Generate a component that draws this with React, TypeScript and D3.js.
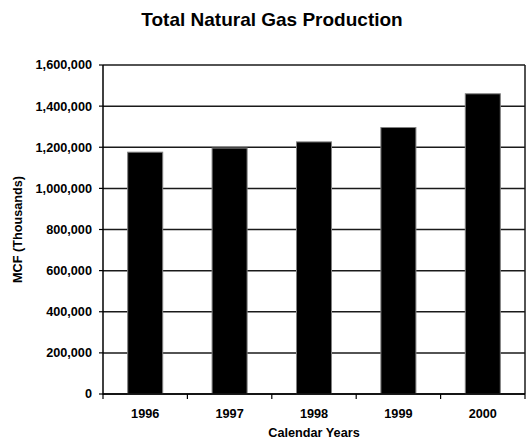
import React from "react";
import * as d3 from "d3";

const years = ["1996", "1997", "1998", "1999", "2000"];
const production = [1176000, 1196000, 1226000, 1296000, 1460000];
const yTicks = [0, 200000, 400000, 600000, 800000, 1000000, 1200000, 1400000, 1600000];

const W = 527;
const H = 442;
const left = 103;
const right = 525;
const top = 65;
const bottom = 394;
const FONT = "'Liberation Sans', Arial, Helvetica, sans-serif";

export default function App() {
  const x = d3
    .scaleBand<string>()
    .domain(years)
    .range([left, right])
    .paddingInner(0.585)
    .paddingOuter(0.2925);
  const y = d3.scaleLinear().domain([0, 1600000]).range([bottom, top]);
  const step = x.step();
  const fmt = d3.format(",");

  return (
    <div style={{ position: "fixed", left: 0, top: 0 }}>
      <svg width={W} height={H} style={{ display: "block", background: "#fff" }}>
        <text
          x={272}
          y={26}
          textAnchor="middle"
          fontFamily={FONT}
          fontWeight="bold"
          fontSize={19}
          fill="#000"
        >
          Total Natural Gas Production
        </text>

        {/* gridlines */}
        {yTicks.map((t) => (
          <line
            key={"g" + t}
            x1={left}
            x2={right}
            y1={y(t)}
            y2={y(t)}
            stroke="#1a1a1a"
            strokeWidth={1.5}
          />
        ))}

        {/* right border */}
        <line x1={right} x2={right} y1={top} y2={bottom} stroke="#1a1a1a" strokeWidth={1.5} />

        {/* bars */}
        {years.map((yr, i) => (
          <rect
            key={yr}
            x={x(yr)}
            y={y(production[i])}
            width={x.bandwidth()}
            height={bottom - y(production[i])}
            fill="#000"
            stroke="#808080"
            strokeWidth={1}
          />
        ))}

        {/* axes */}
        <line x1={left} x2={left} y1={top} y2={bottom + 0.5} stroke="#000" strokeWidth={1.5} />
        <line x1={left} x2={right} y1={bottom} y2={bottom} stroke="#000" strokeWidth={1.5} />

        {yTicks.map((t) => (
          <g key={"yt" + t}>
            <line x1={left - 4} x2={left} y1={y(t)} y2={y(t)} stroke="#000" strokeWidth={1.2} />
            <text
              x={92}
              y={y(t)}
              dy="0.35em"
              textAnchor="end"
              fontFamily={FONT}
              fontWeight="bold"
              fontSize={12.7}
              fill="#000"
            >
              {fmt(t)}
            </text>
          </g>
        ))}

        {d3.range(years.length + 1).map((i) => (
          <line
            key={"xt" + i}
            x1={left + i * step}
            x2={left + i * step}
            y1={bottom}
            y2={bottom + 5}
            stroke="#000"
            strokeWidth={1.2}
          />
        ))}

        {years.map((yr) => (
          <text
            key={"xl" + yr}
            x={(x(yr) as number) + x.bandwidth() / 2}
            y={417.5}
            textAnchor="middle"
            fontFamily={FONT}
            fontWeight="bold"
            fontSize={12.7}
            fill="#000"
          >
            {yr}
          </text>
        ))}

        <text
          x={(left + right) / 2}
          y={437}
          textAnchor="middle"
          fontFamily={FONT}
          fontWeight="bold"
          fontSize={12.7}
          fill="#000"
        >
          Calendar Years
        </text>

        <text
          transform={`translate(22, ${(top + bottom) / 2}) rotate(-90)`}
          textAnchor="middle"
          fontFamily={FONT}
          fontWeight="bold"
          fontSize={12.7}
          fill="#000"
        >
          MCF (Thousands)
        </text>
      </svg>
    </div>
  );
}
